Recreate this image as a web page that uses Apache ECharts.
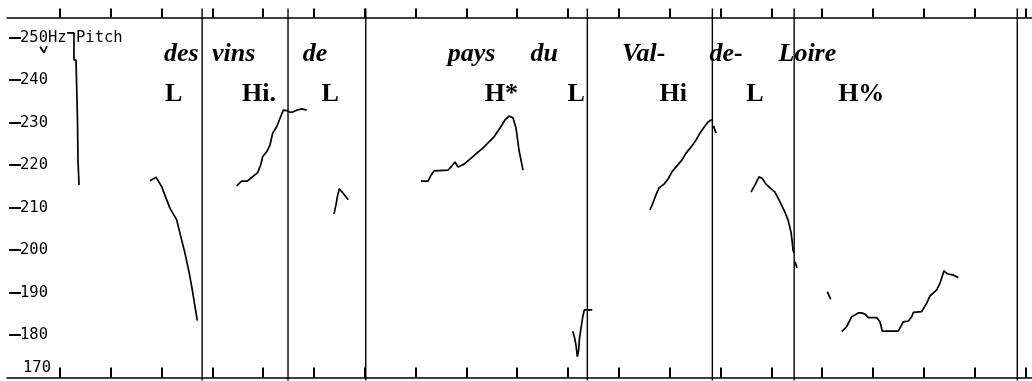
<!DOCTYPE html>
<html>
<head>
<meta charset="utf-8">
<script src="https://cdn.jsdelivr.net/npm/echarts@6/dist/echarts.min.js"></script>
<style>
  html, body { margin: 0; padding: 0; background: #fff; }
  #chart { width: 1032px; height: 381px; }
</style>
</head>
<body>
<div id="chart"></div>
<script>
// Time axis in ms, pitch axis in Hz
const timeTicks = [100, 200, 300, 400, 500, 600, 700, 800, 900, 1000,
                   1100, 1200, 1300, 1400, 1500, 1600, 1700, 1800, 1900, 2000];
const pitchTicks = [170, 180, 190, 200, 210, 220, 230, 240, 250];

// Segment boundaries (ms)
const boundaries = [380, 549, 702, 1138, 1384, 1545, 1984];

// Word tier
const words = ['des', 'vins', 'de', 'pays', 'du', 'Val-', 'de-', 'Loire'];
const wordTimes = [339, 442, 602, 910, 1053, 1249, 1411, 1571];

// Tone tier
const tones = ['L', 'Hi.', 'L', 'H*', 'L', 'Hi', 'L', 'H%'];
const toneTimes = [324, 492, 632, 969, 1116, 1307, 1468, 1677];

// Pitch track pieces: [time ms, F0 Hz]
const pitchA = [[61, 247.8], [68.8, 246.4], [74.7, 248.0]];
const pitchB = [[114, 251.1], [127.8, 251.1], [127.8, 244.7], [131.8, 244.7], [134.7, 230.6],
                [135.7, 221.2], [137.7, 215.3]];
const pitchC = [[277.4, 216.3], [289.2, 217.1], [300.4, 214.9], [308.9, 212.2], [316.8, 209.8],
                [326.6, 207.8], [329.9, 207.1], [336.4, 203.9], [346.3, 199.2], [354.7, 194.5],
                [359.5, 191.4], [366, 186.7], [370.5, 183.4]];
const pitchD = [[448, 215.1], [457.8, 216.2], [468.9, 216.2], [477.5, 217.1], [489.3, 218.2],
                [495.2, 220.0], [499.2, 222.0], [507, 223.1], [513.5, 224.7], [518.8, 227.5],
                [526.7, 229.0], [534.6, 231.4], [539.7, 232.9], [543.1, 233.1], [546.4, 232.8],
                [552.9, 232.4], [559.4, 232.5], [566.1, 232.9], [575.9, 233.2], [585.8, 232.9]];
const pitchE = [[639.5, 208.5], [643.4, 210.6], [646, 212.5], [649.9, 214.4], [657.8, 213.3],
                [667.6, 211.8]];
const pitchF = [[810.7, 216.2], [824.5, 216.2], [830.4, 217.6], [836.3, 218.6], [863.8, 218.8],
                [871.7, 219.8], [877.6, 220.7], [883.5, 219.5], [895.3, 220.2], [907.1, 221.4],
                [918.9, 222.6], [930.7, 223.8], [942.5, 225.2], [954.3, 226.6], [966.1, 228.7],
                [976, 230.6], [983.8, 231.5], [991.7, 231.1], [997.6, 228.7], [1003.5, 223.5],
                [1011.4, 218.8]];
const pitchG = [[1109.2, 180.9], [1112.4, 179.6], [1115.7, 177.6], [1118.3, 174.9], [1121, 176.5],
                [1122.2, 178.8], [1125.5, 181.6], [1129, 184.3], [1132, 185.9], [1136.7, 185.9],
                [1147.7, 185.9]];
const pitchH = [[1261.3, 209.4], [1267.2, 211.1], [1273.1, 213.0], [1279, 214.6], [1288.9, 215.5],
                [1296.8, 216.7], [1304.6, 218.4], [1314.4, 219.8], [1324.3, 221.2], [1332.2, 222.8],
                [1342, 224.2], [1351.9, 225.9], [1359.7, 227.5], [1367.6, 228.9], [1375.4, 230.1],
                [1381.3, 230.6], [1385.3, 230.4]];
const pitchI = [[1386.2, 229.2], [1391.2, 227.5]];
const pitchJ = [[1460.1, 213.6], [1467.9, 215.3], [1475.8, 217.2], [1481.7, 216.9], [1489.6, 215.5],
                [1497.4, 214.6], [1507.3, 213.6], [1515.1, 211.8], [1525, 209.4], [1532.9, 207.1],
                [1538.8, 204.2], [1540.7, 202.4], [1542.7, 200.0], [1544.7, 199.3]];
const pitchK = [[1546.6, 197.2], [1550.6, 195.8]];
const pitchL = [[1610.2, 190.2], [1616.9, 188.4]];
const pitchM = [[1638.5, 180.8], [1648.4, 182.0], [1658.2, 184.3], [1664.7, 184.7], [1671.2, 185.2],
                [1677.9, 185.2], [1684.4, 184.9], [1690.9, 184.1], [1707.4, 184.1], [1713.9, 183.1],
                [1718.4, 180.9], [1749.9, 180.9], [1756.6, 182.4], [1759.7, 183.1], [1769.6, 183.3],
                [1776.3, 184.3], [1779.4, 185.3], [1795.9, 185.5], [1805.8, 187.5], [1812.3, 189.2],
                [1825.5, 190.6], [1832, 192.2], [1839.8, 195.1], [1846.3, 194.4], [1858.1, 194.1],
                [1868, 193.5]];

const pitchPieces = [pitchA, pitchB, pitchC, pitchD, pitchE, pitchF, pitchG,
                     pitchH, pitchI, pitchJ, pitchK, pitchL, pitchM];

const T_MIN = -4, T_MAX = 2013;
const F_MIN = 170, F_MAX = 254.7;
const WORD_ROW = 246.0;
const TONE_ROW = 236.7;
const INK = '#000';

const chart = echarts.init(document.getElementById('chart'), null, { renderer: 'canvas' });

const pitchSeries = pitchPieces.map(function (piece) {
  return {
    type: 'line',
    data: piece,
    showSymbol: false,
    symbol: 'none',
    silent: true,
    animation: false,
    lineStyle: { color: INK, width: 1.7 },
    z: 4
  };
});

const boundarySeries = {
  type: 'custom',
  clip: false,
  silent: true,
  animation: false,
  data: boundaries.map(function (b) { return [b]; }),
  encode: { x: 0 },
  renderItem: function (params, api) {
    const t = api.value(0);
    const top = api.coord([t, F_MAX]);
    const bottom = api.coord([t, F_MIN]);
    return {
      type: 'line',
      shape: { x1: top[0], y1: top[1] - 9, x2: bottom[0], y2: bottom[1] + 3 },
      style: { stroke: INK, lineWidth: 1.4 }
    };
  },
  z: 3
};

// Annotation tiers drawn as text anchored at (time, level)
function textTier(labels, times, level, italic) {
  const font = (italic ? 'italic ' : '') + 'bold 26px "Liberation Serif", serif';
  return {
    type: 'custom',
    clip: false,
    silent: true,
    animation: false,
    data: times.map(function (t, i) { return [t, level, i]; }),
    encode: { x: 0, y: 1 },
    renderItem: function (params, api) {
      const p = api.coord([api.value(0), api.value(1)]);
      return {
        type: 'text',
        x: p[0],
        y: p[1],
        style: {
          text: labels[api.value(2)],
          font: font,
          fill: INK,
          align: 'center',
          verticalAlign: 'middle'
        }
      };
    },
    z: 5
  };
}

const axisLineStyle = { color: INK, width: 1.6 };

chart.setOption({
  backgroundColor: '#fff',
  animation: false,
  grid: { left: 7, right: 0, top: 17.5, bottom: 3.5, outerBoundsMode: 'none', containLabel: false },
  xAxis: [
    {
      type: 'value', position: 'bottom', min: T_MIN, max: T_MAX,
      axisLine: { show: true, lineStyle: axisLineStyle },
      axisTick: { show: true, inside: true, length: 10, customValues: timeTicks,
                  lineStyle: { color: INK, width: 2 } },
      axisLabel: { show: false },
      splitLine: { show: false }
    },
    {
      type: 'value', position: 'top', min: T_MIN, max: T_MAX,
      axisLine: { show: true, lineStyle: axisLineStyle },
      axisTick: { show: true, inside: false, length: 9, customValues: timeTicks,
                  lineStyle: { color: INK, width: 2 } },
      axisLabel: { show: false },
      splitLine: { show: false }
    }
  ],
  yAxis: {
    type: 'value', min: F_MIN, max: F_MAX,
    axisLine: { show: false },
    axisTick: { show: true, inside: true, length: 12, customValues: pitchTicks.slice(1),
                lineStyle: { color: INK, width: 2 } },
    axisLabel: {
      show: true, inside: true, margin: 13,
      customValues: pitchTicks,
      color: INK,
      fontFamily: 'DejaVu Sans Mono',
      fontSize: 15.5,
      formatter: function (v) {
        if (v === 250) return v + 'Hz Pitch';
        if (v === F_MIN) return '{low|' + v + '}';
        return String(v);
      },
      rich: {
        low: { fontFamily: 'DejaVu Sans Mono', fontSize: 15.5, color: INK, padding: [0, 0, 19, 3] }
      }
    },
    splitLine: { show: false }
  },
  series: [boundarySeries].concat(pitchSeries, [
    textTier(words, wordTimes, WORD_ROW, true),
    textTier(tones, toneTimes, TONE_ROW, false)
  ])
});
</script>
</body>
</html>
